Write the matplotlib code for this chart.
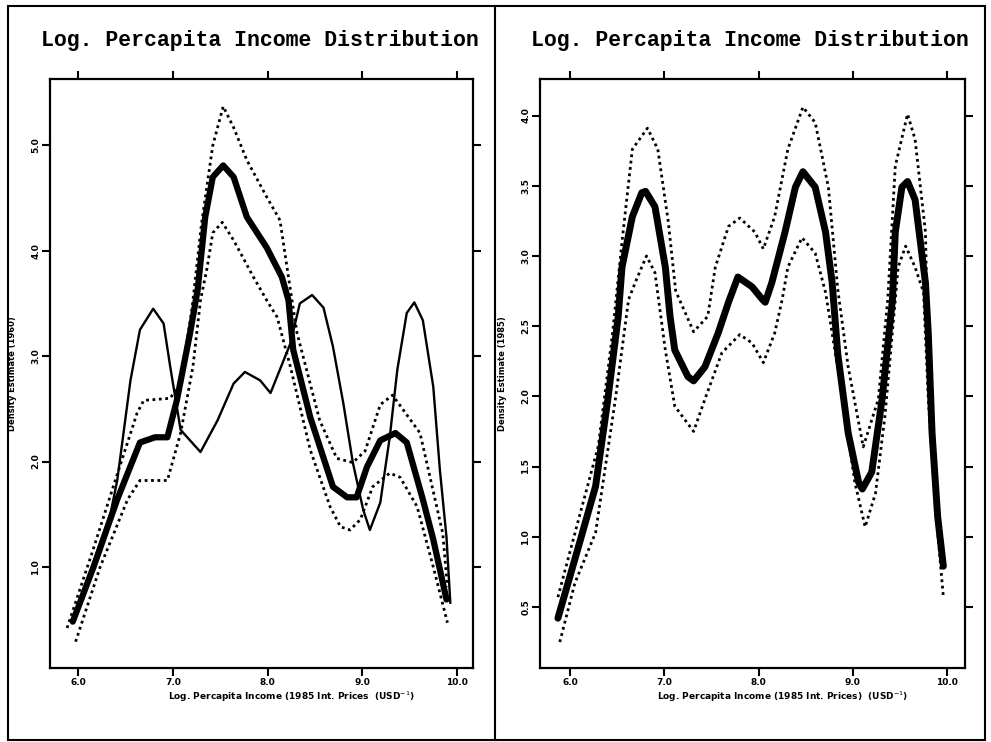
import numpy as np
import matplotlib
matplotlib.use("Agg")
import matplotlib.pyplot as plt
from matplotlib.patches import Rectangle
from matplotlib.lines import Line2D

# Left panel: estimate (thick), confidence bands (dotted), second curve (thin)
left_x = [5.94, 6.16, 6.41, 6.65, 6.81, 6.94, 7.04, 7.18, 7.26, 7.34, 7.42, 7.53, 7.64, 7.78,
          7.99, 8.15, 8.22, 8.27, 8.45, 8.69, 8.84, 8.94, 9.05, 9.19, 9.35, 9.47, 9.64, 9.75, 9.89]
left_y = [0.48, 1.00, 1.64, 2.18, 2.23, 2.23, 2.58, 3.22, 3.63, 4.32, 4.70, 4.81, 4.70, 4.32,
          4.03, 3.75, 3.53, 3.06, 2.42, 1.76, 1.66, 1.66, 1.95, 2.20, 2.27, 2.18, 1.64, 1.26, 0.69]

left_up_x = [5.88, 6.15, 6.40, 6.62, 6.69, 6.97, 7.08, 7.20, 7.30, 7.42, 7.53, 7.64, 7.78,
             7.99, 8.13, 8.24, 8.31, 8.55, 8.73, 8.90, 9.03, 9.19, 9.32, 9.61, 9.85, 9.90]
left_up_y = [0.42, 1.15, 1.85, 2.46, 2.58, 2.60, 2.75, 3.45, 4.25, 5.00, 5.37, 5.17, 4.86,
             4.51, 4.29, 3.63, 3.22, 2.39, 2.03, 1.99, 2.10, 2.54, 2.63, 2.27, 1.32, 0.81]

left_lo_x = [5.97, 6.23, 6.52, 6.65, 6.94, 7.08, 7.21, 7.29, 7.36, 7.42, 7.52, 7.64, 7.85, 7.99,
             8.10, 8.24, 8.45, 8.66, 8.77, 8.87, 8.98, 9.11, 9.29, 9.40, 9.58, 9.75, 9.90]
left_lo_y = [0.29, 1.00, 1.64, 1.82, 1.82, 2.27, 2.90, 3.53, 3.84, 4.17, 4.27, 4.10, 3.75, 3.53,
             3.37, 2.90, 2.11, 1.57, 1.38, 1.35, 1.45, 1.76, 1.89, 1.85, 1.57, 1.00, 0.47]

left_thin_x = [5.94, 6.13, 6.34, 6.41, 6.55, 6.65, 6.79, 6.90, 6.97, 7.08, 7.29, 7.47, 7.64,
               7.76, 7.92, 8.03, 8.24, 8.34, 8.47, 8.59, 8.69, 8.80, 8.90, 9.01, 9.08, 9.19,
               9.29, 9.37, 9.47, 9.55, 9.64, 9.75, 9.82, 9.89, 9.93]
left_thin_y = [0.48, 0.97, 1.51, 1.82, 2.77, 3.25, 3.45, 3.31, 2.90, 2.30, 2.09, 2.39, 2.74,
               2.85, 2.77, 2.65, 3.12, 3.50, 3.58, 3.46, 3.09, 2.55, 1.99, 1.54, 1.35, 1.61,
               2.23, 2.87, 3.41, 3.51, 3.34, 2.71, 1.92, 1.28, 0.66]

# Right panel: estimate (thick) and confidence bands (dotted)
right_x = [5.87, 6.08, 6.27, 6.40, 6.51, 6.55, 6.66, 6.76, 6.80, 6.90, 7.01, 7.06, 7.11, 7.25,
           7.31, 7.43, 7.57, 7.68, 7.78, 7.93, 8.04, 8.07, 8.14, 8.28, 8.39, 8.47, 8.60, 8.71,
           8.78, 8.84, 8.95, 9.06, 9.10, 9.20, 9.31, 9.42, 9.45, 9.52, 9.58, 9.66, 9.77, 9.80,
           9.84, 9.90, 9.96]
right_y = [0.42, 0.91, 1.36, 1.98, 2.57, 2.92, 3.28, 3.45, 3.46, 3.35, 2.92, 2.57, 2.33, 2.14,
           2.11, 2.21, 2.45, 2.67, 2.85, 2.78, 2.69, 2.67, 2.81, 3.17, 3.49, 3.60, 3.49, 3.17,
           2.81, 2.30, 1.74, 1.39, 1.34, 1.46, 1.98, 2.69, 3.17, 3.49, 3.53, 3.40, 2.81, 2.45,
           1.74, 1.14, 0.79]

right_up_x = [5.87, 6.10, 6.30, 6.45, 6.55, 6.66, 6.82, 6.93, 7.04, 7.12, 7.31, 7.46, 7.54,
              7.68, 7.80, 7.96, 8.05, 8.17, 8.31, 8.47, 8.60, 8.74, 8.84, 8.95, 9.11, 9.27,
              9.37, 9.45, 9.58, 9.66, 9.77, 9.80, 9.90, 9.95]
right_up_y = [0.57, 1.15, 1.65, 2.45, 3.10, 3.76, 3.91, 3.76, 3.25, 2.75, 2.46, 2.57, 2.92,
              3.21, 3.27, 3.17, 3.05, 3.28, 3.76, 4.06, 3.95, 3.49, 2.76, 2.21, 1.64, 1.98,
              2.69, 3.64, 4.01, 3.83, 3.17, 2.21, 1.26, 0.84]

right_lo_x = [5.89, 6.05, 6.27, 6.48, 6.62, 6.69, 6.81, 6.90, 7.01, 7.11, 7.31, 7.43, 7.61,
              7.80, 7.93, 8.05, 8.17, 8.25, 8.31, 8.46, 8.60, 8.71, 8.78, 8.92, 9.02, 9.13,
              9.24, 9.34, 9.45, 9.48, 9.56, 9.66, 9.75, 9.80, 9.87, 9.96]
right_lo_y = [0.25, 0.67, 1.03, 1.98, 2.69, 2.81, 3.00, 2.88, 2.33, 1.93, 1.75, 1.98, 2.31,
              2.44, 2.38, 2.24, 2.45, 2.69, 2.92, 3.13, 3.02, 2.74, 2.45, 1.86, 1.39, 1.07,
              1.31, 1.86, 2.69, 2.92, 3.07, 2.92, 2.74, 1.98, 1.26, 0.57]

x_ticks = [6.0, 7.0, 8.0, 9.0, 10.0]
x_tick_labels = ["6.0", "7.0", "8.0", "9.0", "10.0"]
left_y_ticks = [1.0, 2.0, 3.0, 4.0, 5.0]
left_y_tick_labels = ["1.0", "2.0", "3.0", "4.0", "5.0"]
right_y_ticks = [0.5, 1.0, 1.5, 2.0, 2.5, 3.0, 3.5, 4.0]
right_y_tick_labels = ["0.5", "1.0", "1.5", "2.0", "2.5", "3.0", "3.5", "4.0"]

title = "Log. Percapita Income Distribution"

fig = plt.figure(figsize=(9.91, 7.42), dpi=100)

ax1 = fig.add_axes([0.0505, 0.0997, 0.4268, 0.7938])
ax2 = fig.add_axes([0.5449, 0.0997, 0.4289, 0.7938])

dotted = (0, (1, 1.3))

ax1.plot(left_up_x, left_up_y, color='k', lw=2.0, ls=dotted)
ax1.plot(left_lo_x, left_lo_y, color='k', lw=2.0, ls=dotted)
ax1.plot(left_thin_x, left_thin_y, color='k', lw=1.7)
ax1.plot(left_x, left_y, color='k', lw=4.5, solid_joinstyle='round', solid_capstyle='round')

ax2.plot(right_up_x, right_up_y, color='k', lw=2.0, ls=dotted)
ax2.plot(right_lo_x, right_lo_y, color='k', lw=2.0, ls=dotted)
ax2.plot(right_x, right_y, color='k', lw=5.0, solid_joinstyle='round', solid_capstyle='round')

ax1.set_xlim(5.70, 10.17)
ax1.set_ylim(0.04, 5.63)
ax2.set_xlim(5.68, 10.19)
ax2.set_ylim(0.065, 4.26)

ax1.set_yticks(left_y_ticks)
ax1.set_yticklabels(left_y_tick_labels)
ax2.set_yticks(right_y_ticks)
ax2.set_yticklabels(right_y_tick_labels)

for ax in (ax1, ax2):
    ax.set_xticks(x_ticks)
    ax.set_xticklabels(x_tick_labels)
    ax.tick_params(direction='out', length=6, width=1.5, top=True, right=True,
                   labelsize=6.5, pad=1)
    for lab in ax.get_xticklabels() + ax.get_yticklabels():
        lab.set_fontweight('bold')
    for lab in ax.get_yticklabels():
        lab.set_rotation(90)
        lab.set_va('center')
    for sp in ax.spines.values():
        sp.set_linewidth(1.6)

ax1.set_xlabel(r"Log. Percapita Income (1985 Int. Prices  (USD$^{-1}$)",
               fontsize=6.5, fontweight='bold')
ax2.set_xlabel(r"Log. Percapita Income (1985 Int. Prices)  (USD$^{-1}$)",
               fontsize=6.5, fontweight='bold')
ax1.xaxis.set_label_coords(0.57, -0.036)
ax2.xaxis.set_label_coords(0.57, -0.036)
ax1.xaxis.label.set_va('top')
ax2.xaxis.label.set_va('top')

ax1.set_ylabel("Density Estimate (1960)", fontsize=6, fontweight='bold')
ax2.set_ylabel("Density Estimate (1985)", fontsize=6, fontweight='bold')
ax1.yaxis.set_label_coords(-0.078, 0.5)
ax2.yaxis.set_label_coords(-0.078, 0.5)

fig.text(0.262, 0.946, title, ha='center', va='center', fontsize=15.5,
         fontweight='bold', family='Liberation Mono')
fig.text(0.757, 0.946, title, ha='center', va='center', fontsize=15.5,
         fontweight='bold', family='Liberation Mono')

# outer frame and divider between the two panels
fig.add_artist(Rectangle((8 / 991, 1 - 740 / 742), 977 / 991, 734 / 742,
                         transform=fig.transFigure, fill=False, lw=1.5, ec='k'))
fig.add_artist(Line2D([495 / 991, 495 / 991], [1 - 740 / 742, 1 - 6 / 742],
                      transform=fig.transFigure, lw=1.5, color='k'))

fig.savefig("out.png", dpi=100)
